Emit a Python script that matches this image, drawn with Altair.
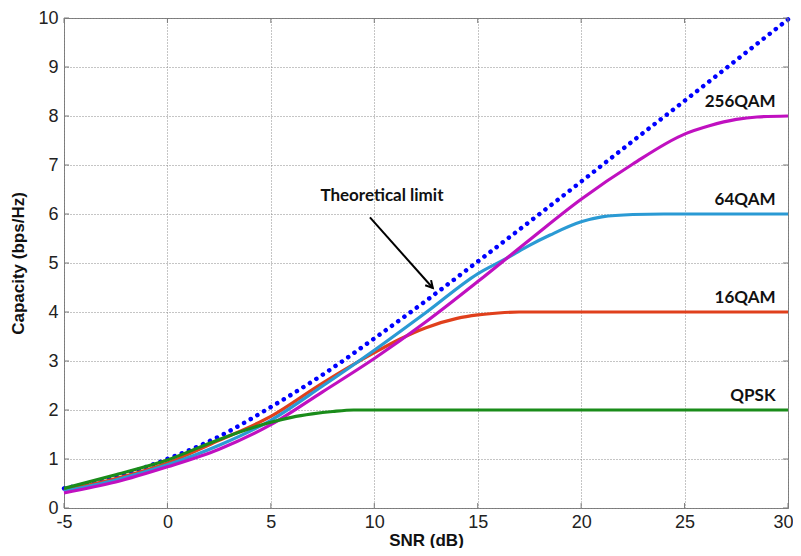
import altair as alt
import pandas as pd

# ---- data ----
snr_theory = [-5, -2.5, 0, 2.5, 5, 7.5, 10, 12.5, 15, 17.5, 20, 22.5, 25, 27.5, 30]
cap_theory = [0.40, 0.64, 1.0, 1.46, 2.06, 2.72, 3.46, 4.23, 5.03, 5.84, 6.66, 7.49, 8.31, 9.14, 9.97]

snr_qpsk = [-5, -2.5, 0, 2.5, 5, 6, 7, 8, 9, 12, 30]
cap_qpsk = [0.40, 0.68, 0.98, 1.40, 1.75, 1.85, 1.92, 1.97, 2.0, 2.0, 2.0]

snr_16 = [-5, -2.5, 0, 2.5, 5, 7.5, 10, 11.25, 12.5, 14, 15, 16, 17, 30]
cap_16 = [0.36, 0.60, 0.92, 1.38, 1.87, 2.55, 3.17, 3.45, 3.68, 3.87, 3.94, 3.98, 4.0, 4.0]

snr_64 = [-5, -2.5, 0, 2.5, 5, 7.5, 10, 12.5, 15, 16.5, 17.5, 18.5, 20, 21, 22.5, 24, 30]
cap_64 = [0.34, 0.57, 0.88, 1.28, 1.79, 2.49, 3.22, 3.99, 4.78, 5.12, 5.36, 5.57, 5.84, 5.94, 5.99, 6.0, 6.0]

snr_256 = [-5, -2.5, 0, 2.5, 5, 7.5, 10, 12.5, 15, 17.5, 20, 22.5, 25, 26.2, 27.5, 28.5, 30]
cap_256 = [0.31, 0.53, 0.84, 1.2, 1.7, 2.37, 3.05, 3.8, 4.62, 5.47, 6.3, 7.02, 7.63, 7.8, 7.93, 7.98, 8.0]

series_names = ["QPSK", "16QAM", "64QAM", "256QAM"]
series_colors = ["#1a8c1a", "#e0401c", "#2a9ad4", "#c010c0"]
label_x = [29.4, 29.4, 29.4, 29.4]
label_y = [2.29, 4.28, 6.29, 8.28]

x_ticks = [-5, 0, 5, 10, 15, 20, 25, 30]
y_ticks = [0, 1, 2, 3, 4, 5, 6, 7, 8, 9, 10]

arrow_start = (9.79, 5.93)
arrow_end = (12.83, 4.49)
limit_text_pos = (10.37, 6.37)

W, H = 724, 490
TICK = 5
FRAME = "#7a7a7a"

# ---- build ----
xs = alt.Scale(domain=[-5, 30], nice=False)
ys = alt.Scale(domain=[0, 10], nice=False)

x_axis = alt.Axis(values=x_ticks, title="SNR (dB)", grid=True, domain=False, ticks=False,
                  labelExpr="'' + datum.value", labelFlush=False,
                  labelAlign={"condition": {"test": "datum.value == 30", "value": "right"}, "value": "center"},
                  labelOffset={"condition": {"test": "datum.value == 30", "value": 5}, "value": 0},
                  labelFontSize=18, labelFont="Liberation Sans", labelColor="#222",
                  labelPadding=5, titleFont="Liberation Sans", titleFontSize=17,
                  titleFontWeight="bold", titleColor="#111", titleY=32,
                  titleBaseline="middle")
y_axis = alt.Axis(values=y_ticks, title="Capacity (bps/Hz)", grid=True, domain=False,
                  ticks=False, labelFontSize=18, labelFont="Liberation Sans",
                  labelColor="#222", labelPadding=6, titleFont="Liberation Sans",
                  titleFontSize=17, titleFontWeight="bold", titleColor="#111",
                  titleX=-46, titleY=245, titleBaseline="middle", titleAngle=-90)

theory_df = pd.DataFrame({"snr": snr_theory, "cap": cap_theory})
theory = alt.Chart(theory_df).mark_line(
    color="#0000ff", strokeWidth=4.5, strokeDash=[0.1, 7.6], strokeCap="round",
    interpolate="monotone"
).encode(x=alt.X("snr:Q", scale=xs, axis=x_axis), y=alt.Y("cap:Q", scale=ys, axis=y_axis))

# inward tick marks on all four sides (MATLAB style box)
xt_df = pd.DataFrame({"v": x_ticks})
yt_df = pd.DataFrame({"v": y_ticks})
tick_layers = [
    alt.Chart(xt_df).mark_rule(color=FRAME, strokeWidth=1).encode(
        x=alt.X("v:Q", scale=xs), y=alt.value(H), y2=alt.value(H - TICK)),
    alt.Chart(xt_df).mark_rule(color=FRAME, strokeWidth=1).encode(
        x=alt.X("v:Q", scale=xs), y=alt.value(0), y2=alt.value(TICK)),
    alt.Chart(yt_df).mark_rule(color=FRAME, strokeWidth=1).encode(
        y=alt.Y("v:Q", scale=ys), x=alt.value(0), x2=alt.value(TICK)),
    alt.Chart(yt_df).mark_rule(color=FRAME, strokeWidth=1).encode(
        y=alt.Y("v:Q", scale=ys), x=alt.value(W), x2=alt.value(W - TICK)),
]

series_data = {
    "QPSK": (snr_qpsk, cap_qpsk),
    "16QAM": (snr_16, cap_16),
    "64QAM": (snr_64, cap_64),
    "256QAM": (snr_256, cap_256),
}
color_of = dict(zip(series_names, series_colors))

layers = [theory] + tick_layers
for name in ["16QAM", "64QAM", "256QAM", "QPSK"]:
    sx, sy = series_data[name]
    df = pd.DataFrame({"snr": sx, "cap": sy})
    layers.append(
        alt.Chart(df).mark_line(color=color_of[name], strokeWidth=3.2, interpolate="monotone")
        .encode(x=alt.X("snr:Q", scale=xs), y=alt.Y("cap:Q", scale=ys))
    )

labels_df = pd.DataFrame({"name": series_names, "x": label_x, "y": label_y})
labels = alt.Chart(labels_df).mark_text(
    align="right", baseline="middle", font="Lato", fontSize=17, fontWeight="bold", color="#111"
).encode(x=alt.X("x:Q", scale=xs), y=alt.Y("y:Q", scale=ys), text="name:N")
layers.append(labels)

limit_df = pd.DataFrame({"t": ["Theoretical limit"], "x": [limit_text_pos[0]], "y": [limit_text_pos[1]]})
limit_text = alt.Chart(limit_df).mark_text(
    align="center", baseline="middle", font="Lato", fontSize=17, fontWeight="bold", color="#111"
).encode(x=alt.X("x:Q", scale=xs), y=alt.Y("y:Q", scale=ys), text="t:N")
layers.append(limit_text)

arrow_df = pd.DataFrame({"x": [arrow_start[0]], "y": [arrow_start[1]],
                         "x2": [arrow_end[0]], "y2": [arrow_end[1]]})
arrow_line = alt.Chart(arrow_df).mark_rule(color="black", strokeWidth=2).encode(
    x=alt.X("x:Q", scale=xs), y=alt.Y("y:Q", scale=ys), x2="x2:Q", y2="y2:Q")
arrow_head = alt.Chart(arrow_df).mark_point(
    shape="M-0.55,1 L0,0 L0.55,1", filled=False, stroke="black", strokeWidth=2,
    size=200, angle=138.5, opacity=1
).encode(x=alt.X("x2:Q", scale=xs), y=alt.Y("y2:Q", scale=ys))
layers += [arrow_line, arrow_head]

chart = alt.layer(*layers).properties(
    width=W, height=H,
    autosize=alt.AutoSizeParams(type="none"),
    padding={"left": 56, "top": 10, "right": 5, "bottom": 40},
    background="white",
).configure_view(
    stroke=FRAME, strokeWidth=1
).configure_axis(
    gridColor="#8a8a8a", gridDash=[1, 2], gridWidth=1, gridOpacity=1
)

chart.save("out.html", embed_options={"renderer": "svg", "actions": False})
